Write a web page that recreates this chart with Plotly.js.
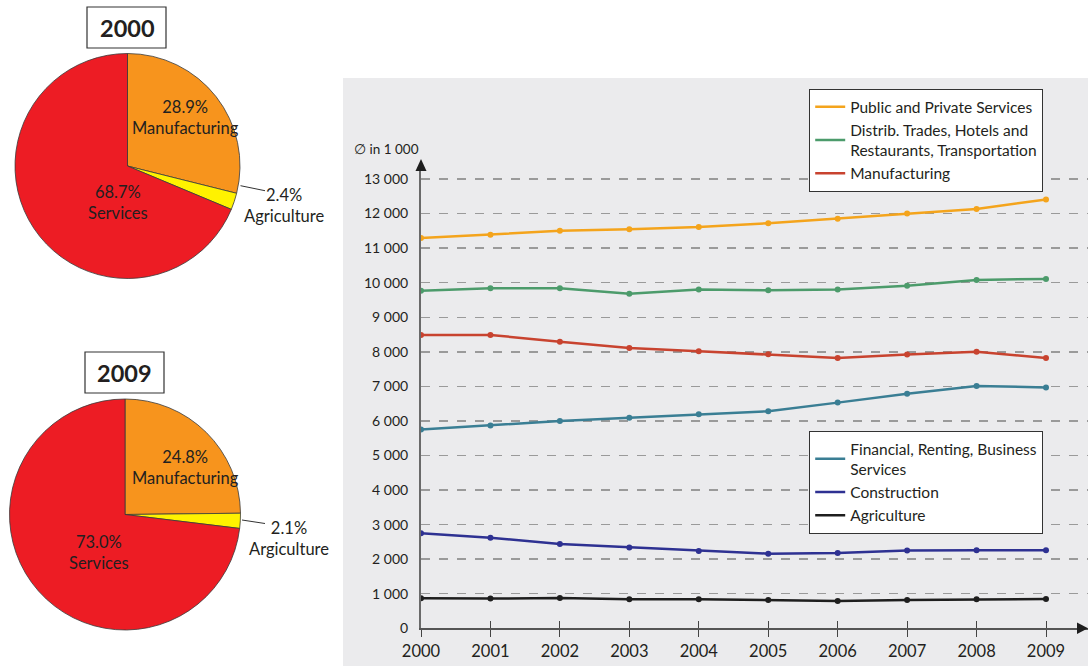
<!DOCTYPE html>
<html>
<head>
<meta charset="utf-8">
<script src="https://cdn.plot.ly/plotly-3.0.1.min.js"></script>
<style>html,body{margin:0;padding:0;background:#fff;}#chart{width:1088px;height:670px;}</style>
</head>
<body>
<div id="chart"></div>
<script>
// ---- data ----
const years = [2000, 2001, 2002, 2003, 2004, 2005, 2006, 2007, 2008, 2009];
const publicServices = [11290, 11390, 11500, 11545, 11610, 11720, 11850, 12000, 12130, 12410];
const distribTrades  = [9770, 9840, 9840, 9680, 9800, 9780, 9800, 9910, 10080, 10110];
const manufacturing  = [8490, 8490, 8290, 8110, 8020, 7930, 7820, 7920, 8000, 7820];
const financial      = [5750, 5870, 6000, 6090, 6190, 6280, 6530, 6790, 7010, 6970];
const construction   = [2750, 2620, 2440, 2340, 2240, 2160, 2180, 2250, 2260, 2260];
const agriculture    = [870, 860, 880, 840, 840, 820, 790, 820, 840, 850];

const seriesNames = ['Public and Private Services',
  'Distrib. Trades, Hotels and<br>Restaurants, Transportation',
  'Manufacturing',
  'Financial, Renting, Business<br>Services',
  'Construction',
  'Agriculture'];

const yTickVals = [0, 1000, 2000, 3000, 4000, 5000, 6000, 7000, 8000, 9000, 10000, 11000, 12000, 13000];
const yTickText = ['0', '1 000', '2 000', '3 000', '4 000', '5 000', '6 000', '7 000', '8 000', '9 000', '10 000', '11 000', '12 000', '13 000'];
const yTitle = '\u2205 in 1 000';

const pieLabels2000 = ['Manufacturing', 'Agriculture', 'Services'];
const pieShares2000 = [28.9, 2.4, 68.7];
const pieLabels2009 = ['Manufacturing', 'Argiculture', 'Services'];
const pieShares2009 = [24.8, 2.1, 73.0];
const pieTitles = ['2000', '2009'];

// ---- helpers ----
const W = 1088, H = 670;
const px = x => x / W;
const py = y => 1 - y / H;
const FONT = 'Lato, "Open Sans", sans-serif';
const TXT = '#231f20';

const lineColors = ['#f4a41c', '#4c9b6b', '#c8432f', '#3a7e94', '#2e3192', '#1e1e1e'];
const lineData = [publicServices, distribTrades, manufacturing, financial, construction, agriculture];
const legendOf = ['legend', 'legend', 'legend', 'legend2', 'legend2', 'legend2'];

const pieColors = ['#f7941d', '#fff200', '#ed1c24'];

const traces = [];
lineData.forEach((vals, i) => {
  traces.push({
    type: 'scatter', mode: 'lines+markers',
    x: years, y: vals, name: seriesNames[i],
    showlegend: false,
    line: {color: lineColors[i], width: 2.5},
    marker: {color: lineColors[i], size: 6},
    hoverinfo: 'x+y+name'
  });
});
// legend entries (line swatch only)
lineData.forEach((vals, i) => {
  traces.push({
    type: 'scatter', mode: 'lines', x: [null], y: [null], name: seriesNames[i],
    legend: legendOf[i], showlegend: true,
    line: {color: lineColors[i], width: 2.5}, hoverinfo: 'skip'
  });
});
// dummy trace to carry crossing tick marks axis
traces.push({type: 'scatter', x: [years[0]], y: [null], xaxis: 'x2', yaxis: 'y', showlegend: false, hoverinfo: 'skip'});

function pieTrace(labels, values, dom) {
  return {
    type: 'pie', labels: labels, values: values, sort: false, direction: 'clockwise', rotation: 0,
    marker: {colors: pieColors, line: {color: '#3a3a3a', width: 0.8}},
    textinfo: 'none', showlegend: false, hoverinfo: 'label+percent',
    domain: dom
  };
}
traces.push(pieTrace(pieLabels2000, pieShares2000, {x: [px(15), px(240)], y: [py(278.5), py(53.5)]}));
traces.push(pieTrace(pieLabels2009, pieShares2009, {x: [px(9.5), px(240.5)], y: [py(630), py(399)]}));

const xEnd = 2009 + (1088 - 1046) / ((1046 - 421) / 9);
const yTop = (628.3 - 165) / 34.56 * 1000;

const annotations = [];
function lbl(x, y, text, size, bold) {
  annotations.push({xref: 'paper', yref: 'paper', x: px(x), y: py(y), text: bold ? '<b>' + text + '</b>' : text,
    showarrow: false, xanchor: 'center', yanchor: 'middle', align: 'center',
    font: {family: FONT, size: size, color: TXT}});
}
// pie labels
const PS = 16.5;
lbl(185, 117.5, pieShares2000[0].toFixed(1) + '%<br>' + pieLabels2000[0], PS);
lbl(118, 202.5, pieShares2000[2].toFixed(1) + '%<br>' + pieLabels2000[2], PS);
lbl(284, 205, pieShares2000[1].toFixed(1) + '%<br>' + pieLabels2000[1], PS);
lbl(185, 467.5, pieShares2009[0].toFixed(1) + '%<br>' + pieLabels2009[0], PS);
lbl(99, 552, pieShares2009[2].toFixed(1) + '%<br>' + pieLabels2009[2], PS);
lbl(289, 538, pieShares2009[1].toFixed(1) + '%<br>' + pieLabels2009[1], PS);
// titles
lbl(127, 28, pieTitles[0], 23.5, true);
lbl(124.5, 373, pieTitles[1], 23.5, true);
// y title
annotations.push({xref: 'paper', yref: 'paper', x: px(352), y: py(149), text: yTitle, showarrow: false,
  xanchor: 'left', yanchor: 'middle', font: {family: FONT, size: 13.5, color: TXT}});

const shapes = [
  {type: 'rect', xref: 'paper', yref: 'paper', x0: px(343), x1: 1, y0: py(666), y1: py(78),
   fillcolor: '#ebebed', line: {width: 0}, layer: 'below'},
  {type: 'rect', xref: 'paper', yref: 'paper', x0: px(87), x1: px(166), y0: py(48), y1: py(7),
   fillcolor: '#fff', line: {color: '#333', width: 1.2}},
  {type: 'rect', xref: 'paper', yref: 'paper', x0: px(85), x1: px(164), y0: py(393), y1: py(352),
   fillcolor: '#fff', line: {color: '#333', width: 1.2}},
  {type: 'line', xref: 'paper', yref: 'paper', x0: px(240.5), y0: py(185.7), x1: px(265), y1: py(190.7),
   line: {color: '#333', width: 1}},
  {type: 'line', xref: 'paper', yref: 'paper', x0: px(242), y0: py(520), x1: px(265), y1: py(523.5),
   line: {color: '#333', width: 1}},
  // axis arrow heads
  {type: 'path', xref: 'paper', yref: 'paper',
   path: `M ${px(421)},${py(159)} L ${px(415.5)},${py(171)} L ${px(426.5)},${py(171)} Z`,
   fillcolor: '#1e1e1e', line: {width: 0}},
  {type: 'path', xref: 'paper', yref: 'paper',
   path: `M ${px(1088)},${py(628.3)} L ${px(1077)},${py(622.5)} L ${px(1077)},${py(634)} Z`,
   fillcolor: '#1e1e1e', line: {width: 0}}
];

const legendCommon = {
  xref: 'paper', yref: 'paper', xanchor: 'left', yanchor: 'top',
  bgcolor: '#ffffff', bordercolor: '#333', borderwidth: 1.2,
  font: {family: FONT, size: 15.5, color: TXT}, tracegroupgap: 0
};

const layout = {
  width: W, height: H,
  margin: {l: 0, r: 0, t: 0, b: 0},
  paper_bgcolor: '#ffffff', plot_bgcolor: 'rgba(0,0,0,0)',
  font: {family: FONT, color: TXT},
  showlegend: true,
  legend: Object.assign({}, legendCommon, {x: px(809), y: py(89)}),
  legend2: Object.assign({}, legendCommon, {x: px(809), y: py(431)}),
  xaxis: {
    domain: [px(421), 1], range: [2000, xEnd], tickvals: years, ticktext: years.map(String),
    ticks: 'outside', ticklen: 7, tickwidth: 1, tickcolor: '#444',
    showline: true, linecolor: '#555', linewidth: 1.5, showgrid: false, zeroline: false,
    tickfont: {family: FONT, size: 16.5, color: TXT}, fixedrange: true
  },
  xaxis2: {
    domain: [px(421), 1], range: [2000, xEnd], overlaying: 'x', anchor: 'y', side: 'bottom',
    tickvals: years, ticks: 'inside', ticklen: 7, tickwidth: 1, tickcolor: '#444',
    showticklabels: false, showline: false, showgrid: false, zeroline: false
  },
  yaxis: {
    domain: [41.7 / H, py(165)], range: [0, yTop], tickvals: yTickVals, ticktext: yTickText,
    ticks: '', showline: true, linecolor: '#6a6a6a', linewidth: 2,
    showgrid: true, gridcolor: '#9a9a9a', gridwidth: 1.5, griddash: 'dash', zeroline: false,
    tickfont: {family: FONT, size: 14, color: TXT}, ticklabelstandoff: 8, fixedrange: true
  },
  annotations: annotations,
  shapes: shapes
};

Plotly.newPlot('chart', traces, layout, {displayModeBar: false, staticPlot: true});
</script>
</body>
</html>
